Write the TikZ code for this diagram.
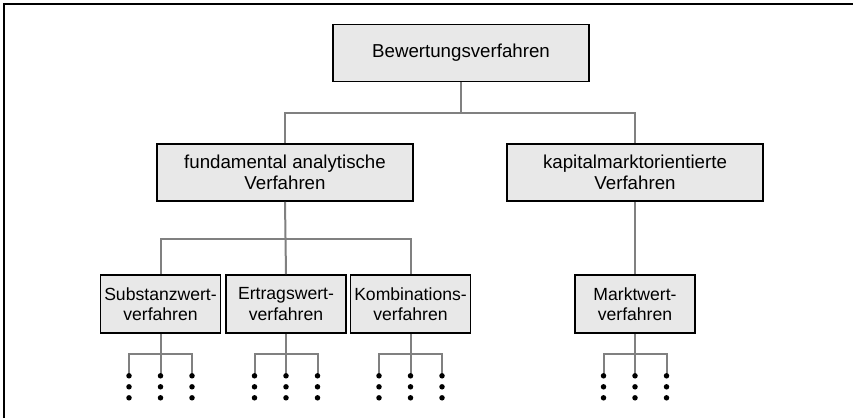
\documentclass[tikz,border=0pt]{standalone}
\usepackage{fontspec}
\setmainfont{Liberation Sans}
\definecolor{boxfill}{RGB}{232,232,232}
\definecolor{linkgray}{RGB}{128,128,128}
\begin{document}
\begin{tikzpicture}[x=1pt,y=-1pt,
  box/.style={draw=black,line width=1.6pt,fill=boxfill,inner sep=0pt,
    align=center},
  bigbox/.style={box,minimum width=256pt,minimum height=57pt,
    font=\fontsize{18.7}{21}\selectfont},
  smallbox/.style={box,minimum width=120pt,minimum height=58pt,
    font=\fontsize{17.6}{20.5}\selectfont},
  link/.style={draw=linkgray,line width=2pt},
  dot/.style={circle,fill=black,inner sep=0pt,minimum size=5.5pt}]
\useasboundingbox (0,0) rectangle (853,418);
% outer frame (top and left edges)
\draw[line width=2pt] (4,418) -- (4,4) -- (853,4);

% boxes
\node[bigbox] (root) at (461,53) {Bewertungsverfahren};
\node[bigbox] (fund) at (285,172.5) {fundamental analytische\\Verfahren};
\node[bigbox] (kap) at (635,172.5) {kapitalmarktorientierte\\Verfahren};
\node[smallbox] (sub) at (160.5,304) {Substanzwert-\\verfahren};
\node[smallbox] (ert) at (286,304) {Ertragswert-\\verfahren};
\node[smallbox] (kom) at (410.5,304) {Kombinations-\\verfahren};
\node[smallbox] (mkt) at (635,304) {Marktwert-\\verfahren};

% junction levels
\coordinate (j1) at (461,113);
\coordinate (j2) at (286,239);

% first level
\draw[link] (root.south) -- (j1);
\draw[link] (fund.north) -- (fund.north |- j1) -- (kap.north |- j1) -- (kap.north);
% second level
\draw[link] (fund.south) -- (ert.north);
\draw[link] (sub.north) -- (sub.north |- j2) -- (kom.north |- j2) -- (kom.north);
\draw[link] (kap.south) -- (mkt.north);

% dot columns below each lower box
\foreach \b in {sub,ert,kom,mkt}{
  \path (\b.south) ++(0,20) coordinate (\b-j);
  \path (\b.south) ++(-31.5,42) coordinate (\b-l1)
        ++(0,11) coordinate (\b-l2) ++(0,11) coordinate (\b-l3);
  \path (\b.south) ++(0,42) coordinate (\b-m1)
        ++(0,11) coordinate (\b-m2) ++(0,11) coordinate (\b-m3);
  \path (\b.south) ++(31.5,42) coordinate (\b-r1)
        ++(0,11) coordinate (\b-r2) ++(0,11) coordinate (\b-r3);
  \draw[link] (\b.south) -- (\b-m1);
  \draw[link] (\b-l1) -- (\b-l1 |- \b-j) -- (\b-r1 |- \b-j) -- (\b-r1);
  \foreach \c in {l1,l2,l3,m1,m2,m3,r1,r2,r3}{
    \node[dot] (\b-\c-dot) at (\b-\c) {};
  }
}
\end{tikzpicture}
\end{document}
